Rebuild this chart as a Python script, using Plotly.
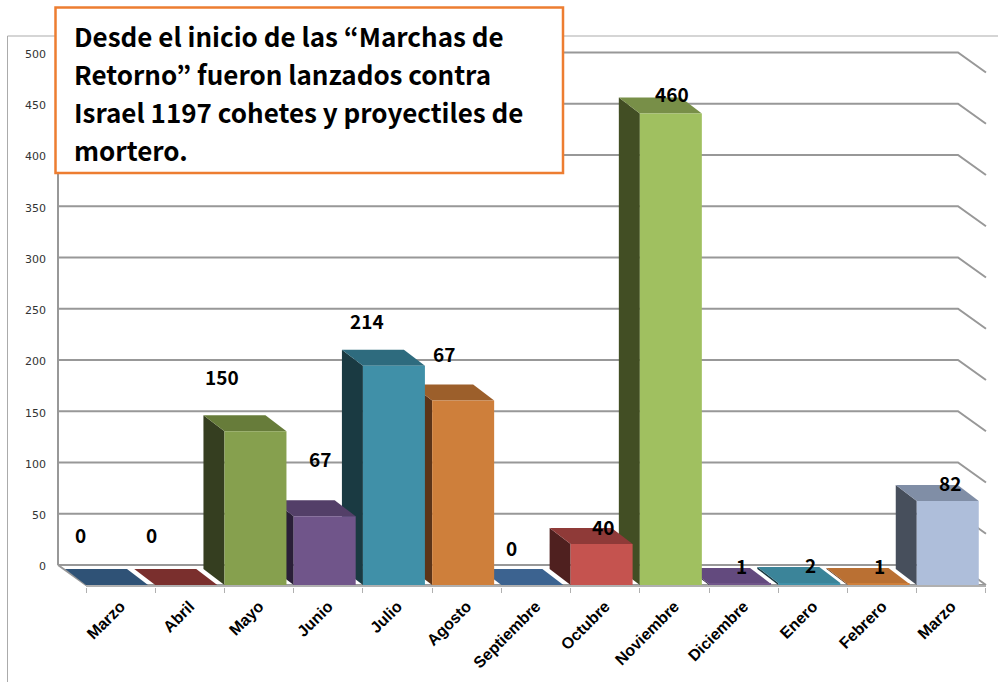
import plotly.graph_objects as go

# ---- data ----
months = ["Marzo", "Abril", "Mayo", "Junio", "Julio", "Agosto", "Septiembre", "Octubre",
          "Noviembre", "Diciembre", "Enero", "Febrero", "Marzo"]
values = [0, 0, 150, 67, 214, 180, 0, 40, 460, 1, 2, 1, 82]
value_labels = ["0", "0", "150", "67", "214", "67", "0", "40", "460", "1", "2", "1", "82"]
y_ticks = [0, 50, 100, 150, 200, 250, 300, 350, 400, 450, 500]
title_lines = ["Desde el inicio de las “Marchas de", "Retorno” fueron lanzados contra",
               "Israel 1197 cohetes y proyectiles de", "mortero."]

# ---- styles ----
front_colors = ["#355A82", "#8A3634", "#86A04E", "#70558A", "#4090A8", "#CE7F3B", "#446E9E",
                "#C5534F", "#A0C060", "#70558A", "#4090A8", "#CE7F3B", "#AEBEDA"]
top_colors = ["#2F5276", "#7A2F2D", "#677C3A", "#533F68", "#2E6B7E", "#9C5F2B", "#3C6390",
              "#8F3A38", "#788F48", "#634A7E", "#3B8499", "#BA7033", "#808EA6"]
side_colors = ["#1D3148", "#4A1C1B", "#353E20", "#2A1F38", "#1A3A42", "#5C3418", "#223A55",
               "#4F201F", "#424E24", "#2A1F38", "#1A3A42", "#5C3418", "#474F5C"]
label_dx = [-40, -38, -37, -8, -31, -23, -25, -2, -2, -2, -2, -3, -1]
label_dy = [51, 51, 55, 58, 45, 47, 38, 18, 20, 18, 18, 18, 18]

W, H = 998, 682
L, BOTTOM = 50, 587          # plot-area edges, px
X0, STEP = 86.0, 69.23       # front floor: px of category 0 and px per category
Y0, SCALE = 585.0, 1.025     # front floor: px of value 0 and px per unit
BAR_W = 62 / STEP
DX, DY = 21 / STEP, 16 / SCALE      # bar depth
WX, WY = 28 / STEP, 20 / SCALE      # floor depth
GRID = "#989898"

xrange = [(L - X0) / STEP, (W - X0) / STEP]
yrange = [(Y0 - BOTTOM) / SCALE, Y0 / SCALE]


def px(x):
    return (x - L) / (W - L)


def py(y):
    return (BOTTOM - y) / BOTTOM


def poly(points, fill):
    path = "M " + " L ".join(f"{a:.4f},{b:.4f}" for a, b in points) + " Z"
    return dict(type="path", path=path, xref="x", yref="y", layer="below",
                fillcolor=fill, line=dict(width=0))


def polyline(points, color=GRID, width=2):
    path = "M " + " L ".join(f"{a:.4f},{b:.4f}" for a, b in points)
    return dict(type="path", path=path, xref="x", yref="y", layer="below",
                line=dict(color=color, width=width))


n = len(months)
shapes = []
# back wall + right wall grid
for t in y_ticks:
    shapes.append(polyline([(-WX, t + WY), (n - WX, t + WY), (n, t)]))
shapes.append(polyline([(-WX, WY), (-WX, y_ticks[-1] + WY)]))
shapes.append(polyline([(-WX, WY), (0, 0), (n, 0)]))
shapes.append(polyline([(0, -1), (n, -1)], width=2, color="#B0B0B0"))

# bar sides and tops, from the values
for i, v in enumerate(values):
    if v > 0:
        shapes.append(poly([(i, 0), (i - DX, DY), (i - DX, v + DY), (i, v)], side_colors[i]))
for i, v in enumerate(values):
    shapes.append(poly([(i, v), (i - DX, v + DY), (i + BAR_W - DX, v + DY), (i + BAR_W, v)], top_colors[i]))

# frame and title box
shapes.append(dict(type="path", xref="paper", yref="paper", layer="below",
                   path=f"M {px(7.5)},{py(682)} L {px(7.5)},{py(36)} L {px(998)},{py(36)}",
                   line=dict(color="#ABABAB", width=1)))
shapes.append(dict(type="rect", xref="paper", yref="paper", layer="above",
                   x0=px(55.5), x1=px(563), y0=py(173), y1=py(7.5),
                   fillcolor="white", line=dict(color="#ED7D31", width=2.5)))

annotations = []
for i, (txt, dx, dy) in enumerate(zip(value_labels, label_dx, label_dy)):
    annotations.append(dict(x=i + 0.5, y=values[i], xref="x", yref="y", text=f"<b>{txt}</b>",
                            showarrow=False, xshift=dx, yshift=dy, xanchor="center", yanchor="middle",
                            font=dict(family="Noto Sans CJK KR", size=19, color="black")))
for j, line in enumerate(title_lines):
    annotations.append(dict(x=px(72), y=py(35 + 38.3 * j), xref="paper", yref="paper",
                            text=f"<b>{line}</b>", showarrow=False, xanchor="left", yanchor="middle",
                            font=dict(family="Noto Sans CJK KR", size=26, color="black")))

fig = go.Figure(go.Bar(
    x=[i + BAR_W / 2 for i in range(n)], y=values, width=BAR_W,
    marker=dict(color=front_colors, line=dict(width=0)), showlegend=False,
))

fig.update_layout(
    width=W, height=H, autosize=False,
    margin=dict(l=L, r=0, t=0, b=H - BOTTOM, pad=0, autoexpand=False),
    paper_bgcolor="white", plot_bgcolor="rgba(0,0,0,0)",
    showlegend=False, shapes=shapes, annotations=annotations,
    xaxis=dict(
        range=xrange, showgrid=False, zeroline=False, showline=False,
        tickmode="array", tickvals=[i + 0.5 for i in range(n)], ticktext=[f"<b>{m}</b>" for m in months],
        tickangle=-45, ticks="", ticklabelstandoff=6,
        tickfont=dict(family="Liberation Sans", size=16, color="black"),
        minor=dict(tickmode="array", tickvals=list(range(n + 1)), ticks="outside", ticklen=5,
                   tickcolor="#B0B0B0", tickwidth=1, showgrid=False),
    ),
    yaxis=dict(
        range=yrange, showgrid=False, zeroline=False, showline=False, ticks="",
        tickmode="array", tickvals=[t + WY - 1.5 for t in y_ticks], ticktext=[str(t) for t in y_ticks],
        ticklabelstandoff=3,
        tickfont=dict(family="DejaVu Sans", size=11, color="#333333"),
    ),
)

fig.write_html("out.html", config={"displayModeBar": False},
               post_script="document.body.style.margin='0';")
